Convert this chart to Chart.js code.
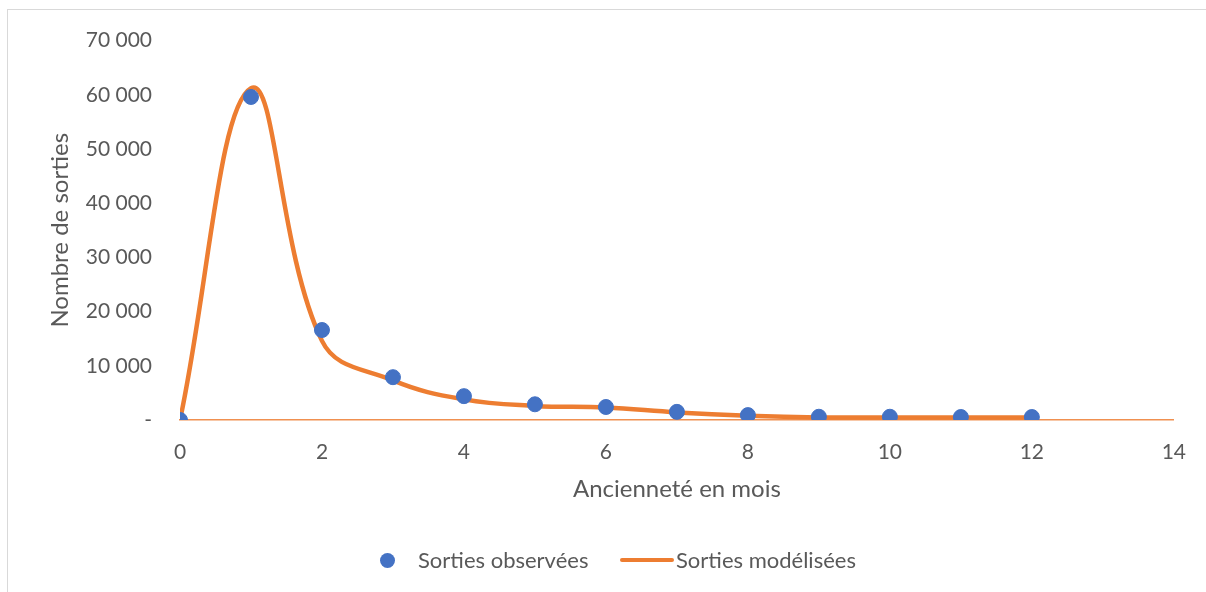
<!DOCTYPE html>
<html>
<head>
<meta charset="utf-8">
<script src="https://cdn.jsdelivr.net/npm/chart.js@4.4.0/dist/chart.umd.min.js"></script>
<style>
  html, body { margin: 0; padding: 0; background: #fff; }
  #wrap { position: relative; width: 1206px; height: 592px; overflow: hidden; }
  #frame { position: absolute; left: 7px; top: 9px; width: 1220px; height: 600px; border: 1px solid #d9d9d9; }
  canvas { position: absolute; left: 0; top: 0; }
  #legend { position: absolute; top: 546px; left: 0; width: 1206px; height: 28px; font-family: Lato, sans-serif; font-size: 22px; color: #595959; line-height: 28px; }
  #legend .dot { position: absolute; left: 380px; top: 7px; width: 15px; height: 15px; border-radius: 50%; background: #4472C4; }
  #legend .line { position: absolute; left: 620px; top: 12px; width: 54px; height: 4px; border-radius: 2px; background: #ED7D31; }
  #legend .t1 { position: absolute; left: 418px; top: 0; }
  #legend .t2 { position: absolute; left: 676px; top: 0; }
</style>
</head>
<body>
<div id="wrap">
  <div id="frame"></div>
  <canvas id="myChart" width="1206" height="592"></canvas>
  <div id="legend">
    <span class="dot"></span><span class="t1" id="lab1"></span>
    <span class="line"></span><span class="t2" id="lab2"></span>
  </div>
</div>
<script>
const months = [0, 1, 2, 3, 4, 5, 6, 7, 8, 9, 10, 11, 12];
const observed = [0, 59600, 16600, 7900, 4400, 2900, 2400, 1500, 900, 600, 600, 550, 550];
const modeled = [0, 61200, 14600, 7300, 3800, 2600, 2300, 1400, 800, 480, 450, 450, 450];
const yTicks = [0, 10000, 20000, 30000, 40000, 50000, 60000, 70000];
const xTicks = [0, 2, 4, 6, 8, 10, 12, 14];
const seriesNames = ["Sorties observées", "Sorties modélisées"];

document.getElementById("lab1").textContent = seriesNames[0];
document.getElementById("lab2").textContent = seriesNames[1];

const tickFont = { family: "Lato, sans-serif", size: 21 };
const titleFont = { family: "Lato, sans-serif", size: 24 };
const grey = "#595959";

function fmt(v) {
  if (v === 0) return "-";
  return String(v).replace(/\B(?=(\d{3})+(?!\d))/g, " ");
}

let obsPoints = [];
let modPoints = [];
for (let i = 0; i < months.length; i++) {
  obsPoints.push({ x: months[i], y: observed[i] });
  modPoints.push({ x: months[i], y: modeled[i] });
}

let ctx = document.getElementById("myChart");
let chart = new Chart(ctx, {
  type: "scatter",
  data: {
    datasets: [
      {
        label: seriesNames[0],
        data: obsPoints,
        backgroundColor: "#4472C4",
        borderColor: "#4472C4",
        pointRadius: 7.5,
        pointHoverRadius: 7.5,
        order: 0
      },
      {
        label: seriesNames[1],
        data: modPoints,
        showLine: true,
        tension: 0.4,
        borderColor: "#ED7D31",
        borderWidth: 4.5,
        pointRadius: 0,
        fill: false,
        order: 1
      }
    ]
  },
  options: {
    responsive: false,
    animation: false,
    layout: { padding: { left: 46, right: 31, top: 39, bottom: 88 } },
    plugins: { legend: { display: false }, tooltip: { enabled: false } },
    scales: {
      x: {
        type: "linear",
        min: 0,
        max: 14,
        afterFit: function(scale) { scale.height = 84; },
        afterBuildTicks: function(scale) { scale.ticks = xTicks.map(v => ({ value: v })); },
        grid: { display: false, drawTicks: false },
        border: { display: true, color: "rgba(237,125,49,0.85)", width: 1.5 },
        ticks: { color: grey, font: tickFont, padding: 20 },
        title: { display: true, text: "Ancienneté en mois", color: grey, font: titleFont, padding: 0 }
      },
      y: {
        min: 0,
        max: 70000,
        afterFit: function(scale) { scale.width = 134; },
        afterBuildTicks: function(scale) { scale.ticks = yTicks.map(v => ({ value: v })); },
        grid: { display: false, drawTicks: false },
        border: { display: false },
        ticks: { color: grey, font: tickFont, padding: 28, callback: function(v) { return fmt(v); } },
        title: { display: true, text: "Nombre de sorties", color: grey, font: titleFont, padding: 0 }
      }
    }
  }
});
</script>
</body>
</html>
